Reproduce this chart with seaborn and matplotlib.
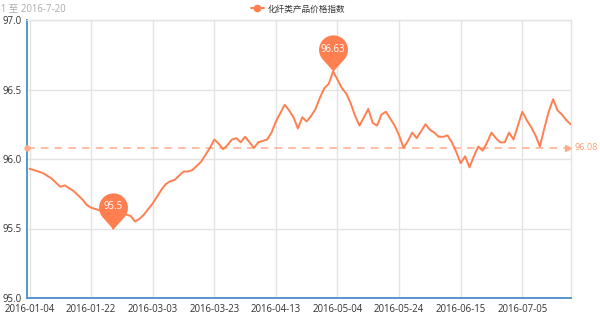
import numpy as np
import pandas as pd
import matplotlib
matplotlib.use("Agg")
import matplotlib.pyplot as plt
from matplotlib.path import Path
from matplotlib.lines import Line2D
import seaborn as sns

# ---------------- data ----------------
title_text = "2016-1-1 至 2016-7-20"
series_name = "化纤类产品价格指数"
tick_labels = ["2016-01-04", "2016-01-22", "2016-03-03", "2016-03-23", "2016-04-13",
               "2016-05-04", "2016-05-24", "2016-06-15", "2016-07-05"]
tick_step = 14
values = [
    95.93, 95.92, 95.91, 95.90, 95.88, 95.86, 95.83, 95.80, 95.81, 95.79,
    95.77, 95.74, 95.71, 95.67, 95.65, 95.64, 95.63, 95.61, 95.60, 95.50,
    95.60, 95.60, 95.60, 95.59, 95.55, 95.57, 95.60, 95.64, 95.68, 95.73,
    95.78, 95.82, 95.84, 95.85, 95.88, 95.91, 95.91, 95.92, 95.95, 95.98,
    96.03, 96.08, 96.14, 96.11, 96.07, 96.10, 96.14, 96.15, 96.12, 96.16,
    96.12, 96.08, 96.12, 96.13, 96.14, 96.19, 96.27, 96.33, 96.39, 96.35,
    96.30, 96.22, 96.30, 96.27, 96.31, 96.36, 96.44, 96.51, 96.54, 96.63,
    96.57, 96.51, 96.47, 96.40, 96.31, 96.24, 96.30, 96.36, 96.26, 96.24,
    96.32, 96.34, 96.29, 96.24, 96.17, 96.08, 96.13, 96.19, 96.15, 96.20,
    96.25, 96.21, 96.19, 96.16, 96.16, 96.17, 96.12, 96.05, 95.97, 96.02,
    95.94, 96.02, 96.09, 96.06, 96.12, 96.19, 96.15, 96.12, 96.12, 96.19,
    96.14, 96.24, 96.34, 96.28, 96.23, 96.17, 96.09, 96.22, 96.34, 96.43,
    96.35, 96.32, 96.28, 96.25,
]
avg_value = 96.08
y_ticks = [95.0, 95.5, 96.0, 96.5, 97.0]

# ---------------- style ----------------
sns.set_style("white")
plt.rcParams['font.family'] = ['Open Sans', 'Noto Sans CJK SC', 'DejaVu Sans']

LINE = "#ff7f50"
AVG = "#ffab8a"
AXIS = "#4a8ccb"
GRID = "#e3e3e3"
TXT = "#333333"
FS = 6.9

df = pd.DataFrame({"idx": np.arange(len(values)), "value": values})

fig = plt.figure(figsize=(6.0, 3.17), dpi=100)
W, H = 600, 317
ax = fig.add_axes([27 / W, 1 - 298 / H, (571 - 27) / W, (298 - 20) / H])

sns.lineplot(data=df, x="idx", y="value", ax=ax, color=LINE, linewidth=1.4, zorder=4)

n = len(values)
ax.set_xlim(-0.57, n - 1 + 0.07)
ax.set_ylim(y_ticks[0], y_ticks[-1])
ax.set_xlabel("")
ax.set_ylabel("")

xt = np.arange(0, n, tick_step)[:len(tick_labels)]
ax.set_xticks(xt)
ax.set_xticklabels(tick_labels, fontsize=FS, color=TXT)
ax.set_yticks(y_ticks)
ax.set_yticklabels([f"{v:.1f}" for v in y_ticks], fontsize=FS, color=TXT)
ax.tick_params(axis="x", length=3, width=1, color=AXIS, pad=1)
ax.tick_params(axis="y", length=0, pad=4)

ax.grid(True, color=GRID, linewidth=1)
ax.set_axisbelow(True)
for s in ["top", "right"]:
    ax.spines[s].set_color(GRID)
    ax.spines[s].set_linewidth(1)
for s in ["left", "bottom"]:
    ax.spines[s].set_color(AXIS)
    ax.spines[s].set_linewidth(1.3)

# average mark line
x0, x1 = ax.get_xlim()
ax.plot([x0, x1 - 1.0], [avg_value, avg_value], color=AVG, lw=1.1,
        dashes=(5, 4), zorder=3, clip_on=False)
ax.plot([x0], [avg_value], marker="o", ms=3.5, color=AVG, zorder=3, clip_on=False)
ax.plot([x1 - 0.6], [avg_value], marker=">", ms=5, color=AVG, mec=AVG, zorder=3, clip_on=False)
ax.annotate(f"{avg_value:.2f}", xy=(x1, avg_value), xytext=(2.5, 0), textcoords="offset points",
            ha="left", va="center", fontsize=6.6, color="#ff9a70", annotation_clip=False)

# pin markers (max / min)
theta = np.linspace(np.deg2rad(-41.8), np.deg2rad(221.8), 60)
verts = np.column_stack([np.cos(theta), 1.5 + np.sin(theta)])
verts = np.vstack([[0, 0], verts, [0, 0]])
codes = [Path.MOVETO] + [Path.LINETO] * (len(verts) - 2) + [Path.CLOSEPOLY]
pin = Path(verts, codes)

arr = np.array(values)
for i in [int(arr.argmax()), int(arr.argmin())]:
    ax.plot([i], [arr[i]], marker=pin, ms=52, color=LINE, mec=LINE, mew=0,
            zorder=6, clip_on=False)
    ax.annotate(f"{arr[i]:g}", xy=(i, arr[i]), xytext=(0, 15.8), textcoords="offset points",
                ha="center", va="center", fontsize=FS, color="white", zorder=7)

# legend
handle = Line2D([], [], color=LINE, lw=1.4, marker="o", ms=4.5)
fig.legend([handle], [series_name], loc="center", bbox_to_anchor=(298 / W, 1 - 9 / H),
           frameon=False, fontsize=6.2, handlelength=1.5, handletextpad=0.4,
           labelcolor=TXT, borderpad=0)

# title (partially cut at left, as in reference)
fig.text(66 / W, 1 - 9 / H, title_text, ha="right", va="center", fontsize=FS, color="#aaaaaa")

fig.savefig("out.png", dpi=100)
